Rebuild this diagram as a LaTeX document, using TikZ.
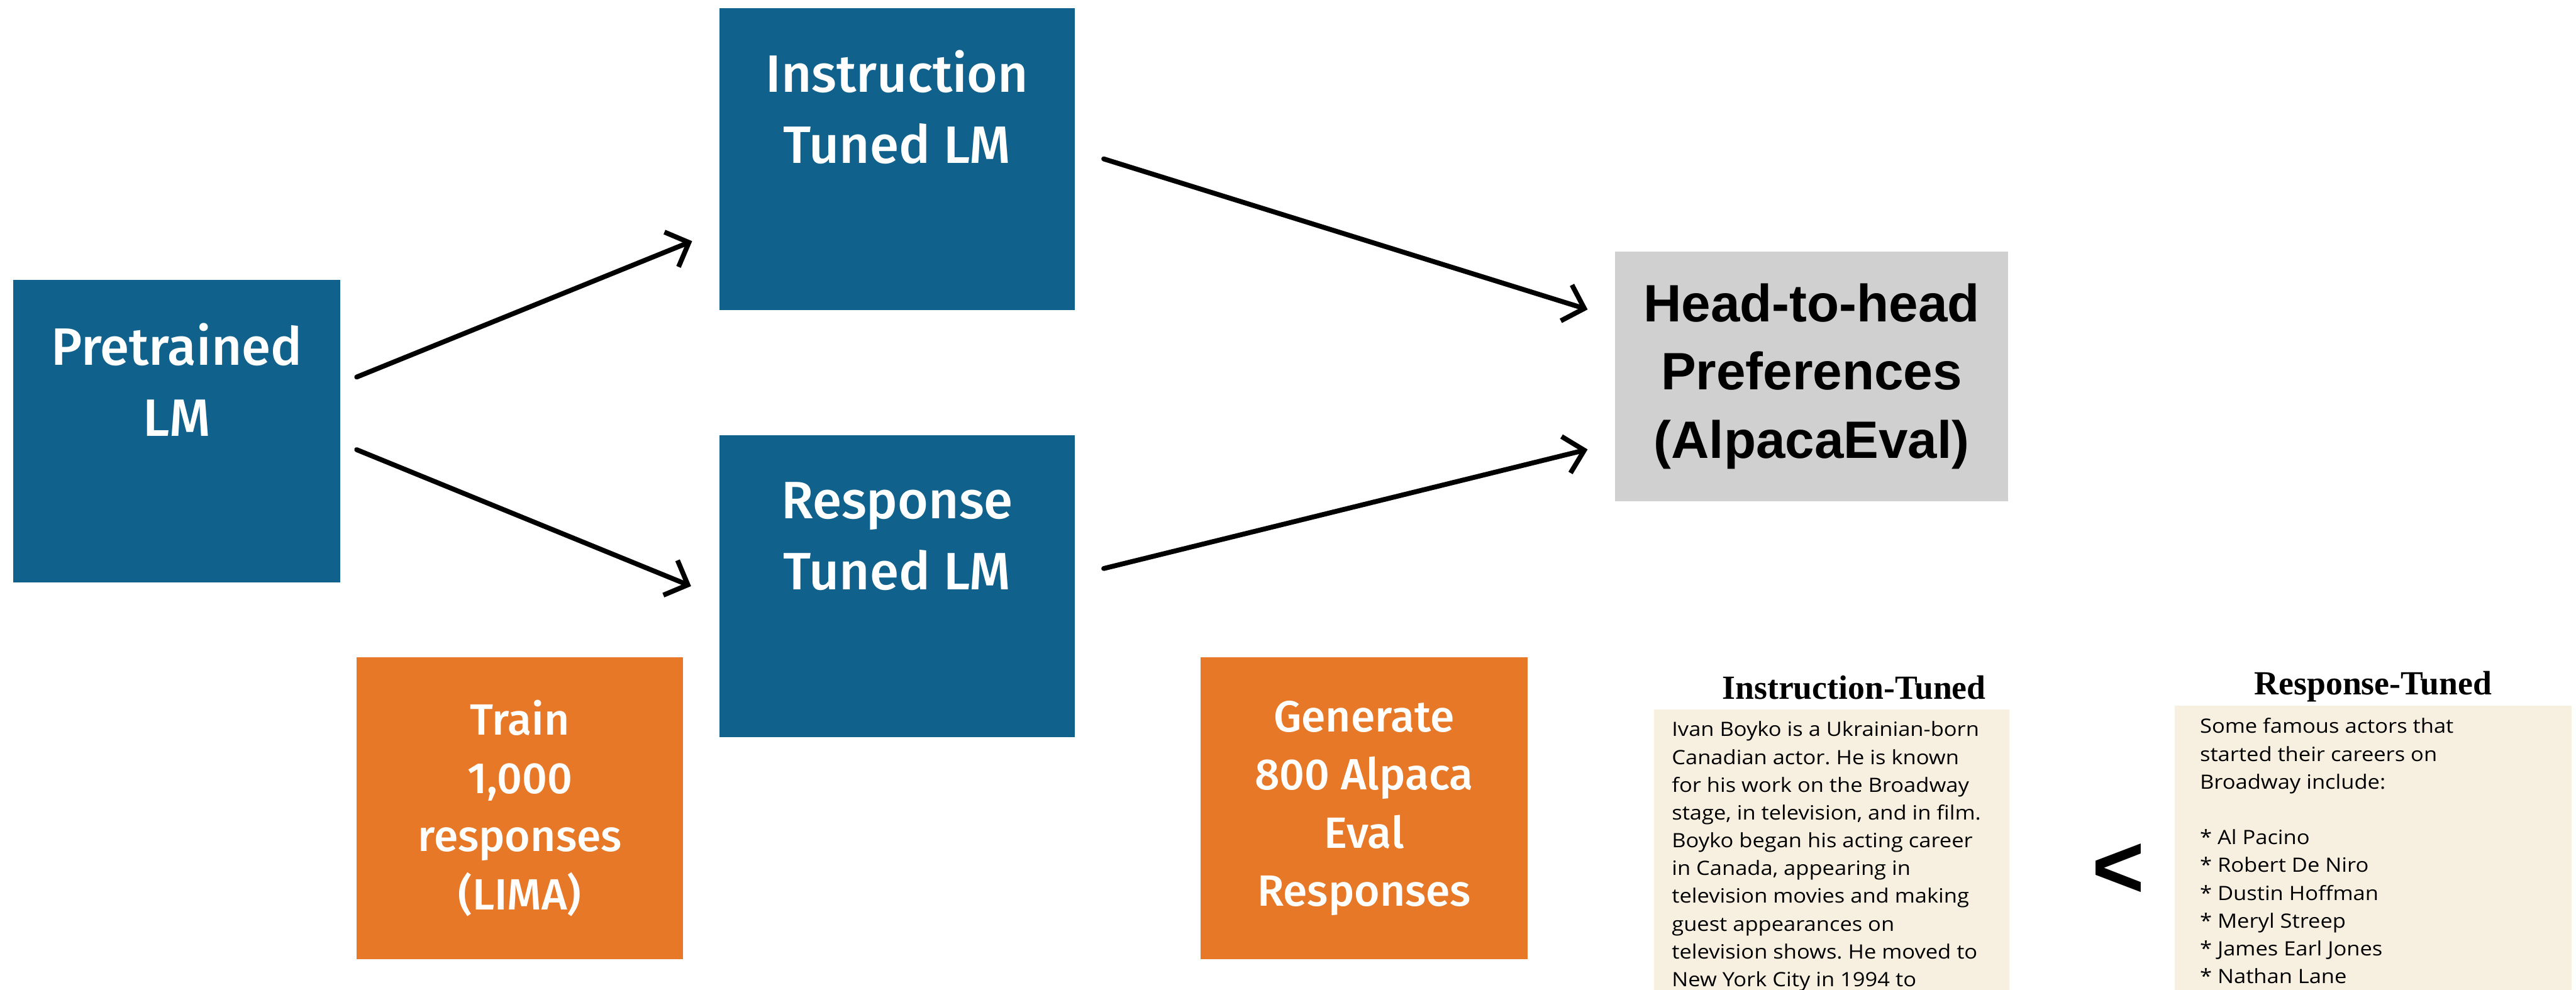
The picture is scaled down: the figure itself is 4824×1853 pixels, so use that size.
\documentclass[tikz,border=0pt]{standalone}
\usepackage{fontspec}
\usetikzlibrary{arrows.meta,positioning}
\newfontfamily\boxfont{Fira Sans Medium}
\newfontfamily\headfont{Liberation Sans}
\newfontfamily\titlefont{Liberation Serif}
\newfontfamily\bodyfont{Open Sans}[FakeStretch=1.1]
\definecolor{lmblue}{HTML}{10628C}
\definecolor{taskorange}{HTML}{E67828}
\definecolor{evalgray}{HTML}{D0D0D0}
\definecolor{samplecream}{HTML}{F7EFDF}
\frenchspacing

\begin{document}
\begin{tikzpicture}[
    x=0.01cm, y=-0.01cm,
    lmbox/.style={rectangle, fill=lmblue, minimum width=6.64cm, minimum height=5.65cm, inner sep=0pt},
    lmtext/.style={text=white, align=center, inner sep=0pt, font=\boxfont\fontsize{28}{38}\selectfont},
    taskbox/.style={rectangle, fill=taskorange, text=white, align=center, minimum width=6.11cm, minimum height=5.65cm, inner sep=0pt, font=\boxfont\fontsize{23.3}{31}\selectfont},
    evalbox/.style={rectangle, fill=evalgray, align=center, minimum width=7.35cm, minimum height=4.67cm, inner sep=0pt, font=\headfont\bfseries\fontsize{28}{36.4}\selectfont},
    samplebox/.style={rectangle, fill=samplecream, inner sep=0pt},
    sampletitle/.style={anchor=base, inner sep=0pt, font=\titlefont\bfseries\fontsize{18}{20}\selectfont},
    sampletext/.style={align=left, anchor=north west, inner sep=0pt, font=\bodyfont\fontsize{10.5}{14.8}\selectfont},
    arrow/.style={-{Straight Barb[length=10pt,width=20pt]}, line width=2.6pt, line cap=round}
]
\useasboundingbox (0,0) rectangle (4824,1853);
\clip (0,0) rectangle (4824,1853);

% models
\node[lmbox, minimum width=6.12cm, minimum height=5.66cm] (pre) at (331,807) {};
\node[lmtext] (pretext) at ([shift={(0,-96)}]pre.center) {Pretrained\\LM};
\node[lmbox] (inst) at (1680,297.5) {};
\node[lmtext] (insttext) at ([shift={(0,-97)}]inst.center) {Instruction\\Tuned LM};
\node[lmbox] (resp) at (1680,1097.5) {};
\node[lmtext] (resptext) at ([shift={(0,-93)}]resp.center) {Response\\Tuned LM};
\node[evalbox] (head) at (3392.5,704.5) {Head-to-head\\Preferences\\(AlpacaEval)};

% data boxes
\node[taskbox] (train) at (973.5,1513.5) {Train\\1,000\\responses\\(LIMA)};
\node[taskbox] (gen) at (2554.5,1513.5) {Generate\\800 Alpaca\\Eval\\Responses};

\draw[arrow] ([shift={(30,-101)}]pre.east) -- ([shift={(-51,154)}]inst.west);
\draw[arrow] ([shift={(30,35)}]pre.east) -- ([shift={(-53,0)}]resp.west);
\draw[arrow] ([shift={(54,0)}]inst.east) -- ([shift={(-51,-125)}]head.west);
\draw[arrow] ([shift={(54,-33)}]resp.east) -- ([shift={(-51,137)}]head.west);

% sample outputs
\node[samplebox, minimum width=6.65cm, minimum height=5.71cm] (ibox) at (3430.5,1614.5) {};
\node[sampletitle] (ititle) at (3472,1309) {Instruction-Tuned};
\node[sampletext] (itext) at ([shift={(33,22)}]ibox.north west) {Ivan Boyko is a Ukrainian-born\\
Canadian actor. He is known\\
for his work on the Broadway\\
stage, in television, and in film.\\
Boyko began his acting career\\
in Canada, appearing in\\
television movies and making\\
guest appearances on\\
television shows. He moved to\\
New York City in 1994 to};
\node[samplebox, minimum width=7.42cm, minimum height=5.78cm] (rbox) at (4444,1611) {};
\node[sampletitle] (rtitle) at (4444,1301) {Response-Tuned};
\node[sampletext] (rtext) at ([shift={(47,23)}]rbox.north west) {Some famous actors that\\
started their careers on\\
Broadway include:\\[14.8pt]
* Al Pacino\\
* Robert De Niro\\
* Dustin Hoffman\\
* Meryl Streep\\
* James Earl Jones\\
* Nathan Lane};
\node[inner sep=0pt, font=\headfont\bfseries\fontsize{48}{48}\selectfont] (lessthan) at (3967,1630) {<};
\end{tikzpicture}
\end{document}
